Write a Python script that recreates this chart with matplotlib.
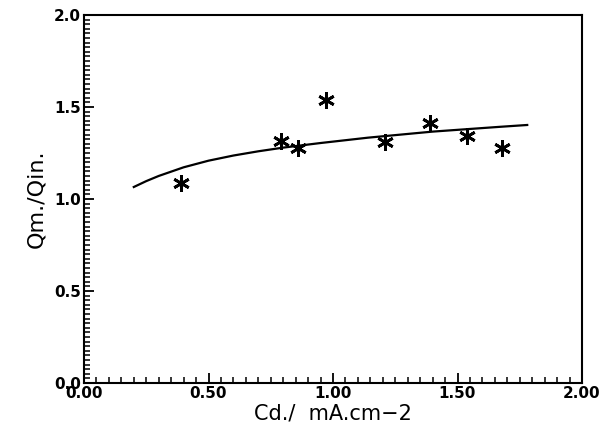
import matplotlib.pyplot as plt
from matplotlib.ticker import MultipleLocator

# measured points
cd = [0.39, 0.79, 0.86, 0.97, 1.21, 1.39, 1.54, 1.68]
q_ratio = [1.085, 1.315, 1.275, 1.54, 1.31, 1.415, 1.34, 1.275]

# fitted curve
fit_x = [0.20, 0.25, 0.30, 0.40, 0.50, 0.60, 0.70, 0.80, 0.95, 1.14, 1.40, 1.67, 1.78]
fit_y = [1.065, 1.097, 1.125, 1.172, 1.208, 1.236, 1.259, 1.279, 1.304, 1.333, 1.366, 1.392, 1.402]

x_ticks = [0.0, 0.5, 1.0, 1.5, 2.0]
x_labels = ['0.00', '0.50', '1.00', '1.50', '2.00']
y_ticks = [0.0, 0.5, 1.0, 1.5, 2.0]
y_labels = ['0.0', '0.5', '1.0', '1.5', '2.0']

plt.rcParams['font.family'] = ['DejaVu Sans']

fig = plt.figure(figsize=(6, 4.33), dpi=100)
ax = fig.add_axes([0.14, 0.1155, 0.83, 0.85])

ax.plot(fit_x, fit_y, color='black', linewidth=1.6)
ax.plot(cd, q_ratio, linestyle='none', marker=(6, 2, 0), markersize=12,
        markeredgewidth=2.0, color='black')

ax.set_xlim(0, 2)
ax.set_ylim(0, 2)
ax.set_xticks(x_ticks)
ax.set_xticklabels(x_labels, fontsize=11, fontweight='bold')
ax.set_yticks(y_ticks)
ax.set_yticklabels(y_labels, fontsize=11, fontweight='bold')
ax.xaxis.set_minor_locator(MultipleLocator(0.05))
ax.yaxis.set_minor_locator(MultipleLocator(0.025))
ax.tick_params(which='major', direction='in', length=7, width=1.3, pad=2)
ax.tick_params(which='minor', direction='in', length=4, width=1.1)
ax.tick_params(axis='x', which='both', top=False)
ax.tick_params(axis='y', which='both', right=False)
for s in ax.spines.values():
    s.set_linewidth(1.5)

ax.set_xlabel('Cd./  mA.cm\u22122', fontsize=15, labelpad=2)
ax.set_ylabel('Qm./Qin.', fontsize=16, labelpad=6)

fig.savefig('out.png', dpi=100)
